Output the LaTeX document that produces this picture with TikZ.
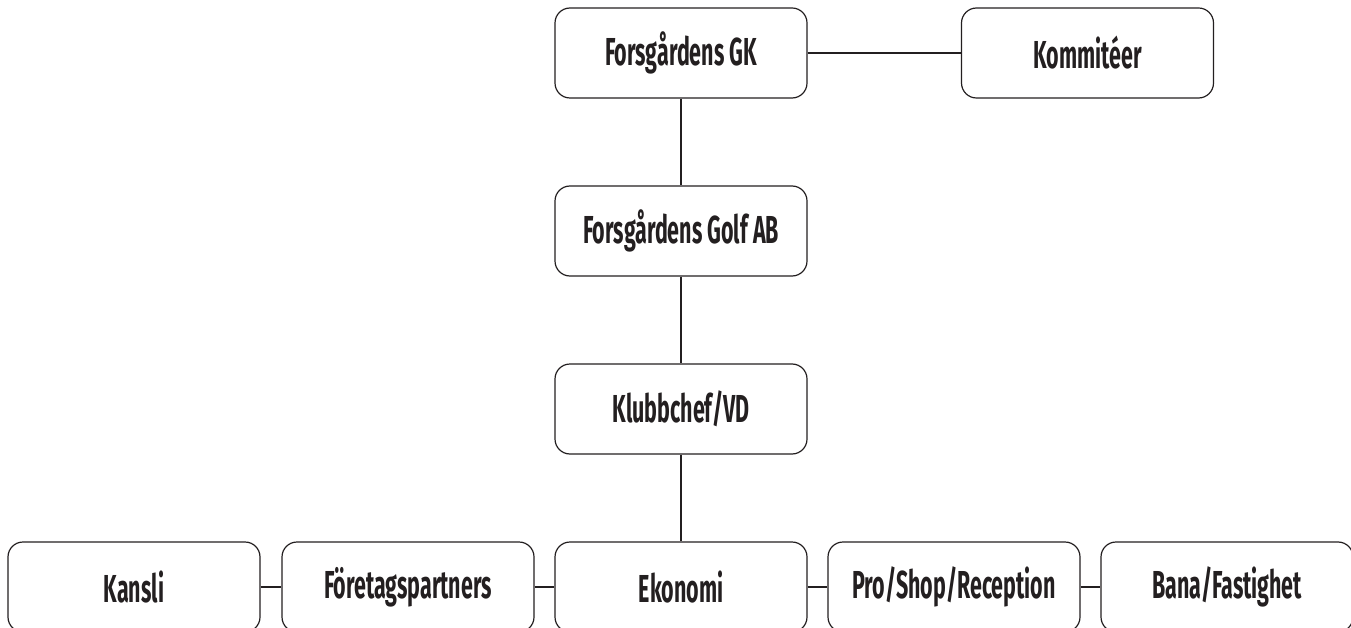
\documentclass[tikz,border=0pt]{standalone}
\usepackage{fontspec}
\newfontfamily\orgfont{Fira Sans}[FakeStretch=0.55]
\usepackage{tikz}
\definecolor{inkgray}{HTML}{231F20}

\begin{document}
\begin{tikzpicture}[
  x=1pt, y=-1pt,
  unit/.style={draw=inkgray, line width=1.2pt, rounded corners=15pt,
    minimum width=252pt, minimum height=90pt, inner sep=0pt,
    text=inkgray, font=\orgfont\bfseries\fontsize{39}{44}\selectfont},
  link/.style={draw=inkgray, line width=1.1pt},
]

\useasboundingbox (0,0) rectangle (1351,628);

\node [unit] (gk) at (681,53) {Forsgårdens GK};
\node [unit] (kommit) at (1087.5,53) {Kommitéer};
\node [unit] (golfab) at (681,231) {Forsgårdens Golf AB};
\node [unit] (chef) at (681,409) {Klubbchef/VD};

\node [unit] (kansli) at (134,587) {Kansli};
\node [unit] (partner) at (408,587) {Företagspartners};
\node [unit] (ekonomi) at (681,587) {Ekonomi};
\node [unit] (proshop) at (954,587) {Pro/Shop/Reception};
\node [unit] (bana) at (1227,587) {Bana/Fastighet};

\draw [link] (gk) -- (kommit);
\draw [link] (gk) -- (golfab);
\draw [link] (golfab) -- (chef);
\draw [link] (chef) -- (ekonomi);
\draw [link] (kansli) -- (partner);
\draw [link] (partner) -- (ekonomi);
\draw [link] (ekonomi) -- (proshop);
\draw [link] (proshop) -- (bana);

\end{tikzpicture}
\end{document}
